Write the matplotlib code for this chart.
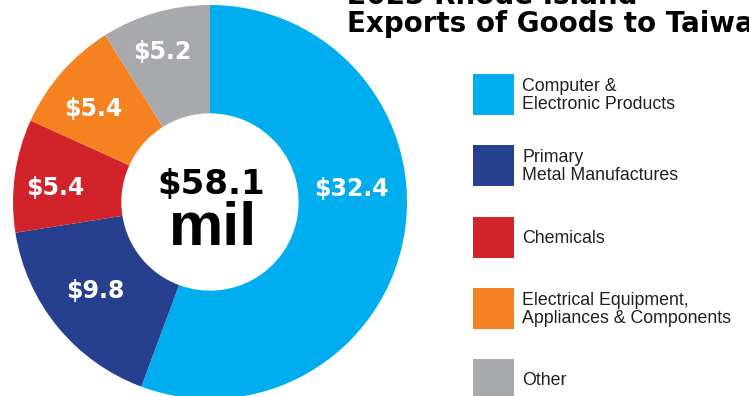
import matplotlib
matplotlib.use('Agg')
import matplotlib.pyplot as plt
from matplotlib.patches import Rectangle

# data (millions of USD)
categories = ['Computer &\nElectronic Products', 'Primary\nMetal Manufactures', 'Chemicals',
              'Electrical Equipment,\nAppliances & Components', 'Other']
values = [32.4, 9.8, 5.4, 5.4, 5.2]
total_label = '$58.1'
colors = ['#00AEEF', '#263F8E', '#D2232A', '#F58220', '#A7A9AC']

# label spots inside the ring (axes data units)
label_xy = [(0.716, 0.066), (-0.584, -0.452), (-0.787, 0.071), (-0.594, 0.472), (-0.244, 0.761)]

W, H = 749, 396
fig = plt.figure(figsize=(W / 100, H / 100), dpi=100)

ax = fig.add_axes([13 / W, -3 / H, 394 / W, 394 / H])
ax.pie(values, colors=colors, startangle=90, counterclock=False, radius=1,
       wedgeprops=dict(width=0.55, linewidth=0))
ax.set_xlim(-1, 1)
ax.set_ylim(-1, 1)
ax.axis('off')

for v, (x, y) in zip(values, label_xy):
    ax.text(x, y, f'${v:.1f}', color='white', fontsize=17, fontweight='bold',
            family='DejaVu Sans', ha='center', va='center')

ax.text(0.005, 0.04, total_label, fontsize=24.5, fontweight='heavy', family='DejaVu Sans',
        ha='center', va='baseline', color='black')
ax.text(0.015, -0.22, 'mil', fontsize=44, fontweight='bold', family='Liberation Sans',
        ha='center', va='baseline', color='black')

# title (cut off by the frame, as in the source)
fig.text(347 / W, 1 - 4 / H, '2023 Rhode Island', fontsize=20, fontweight='bold',
         family='DejaVu Sans', va='baseline', color='black')
fig.text(347 / W, 1 - 32 / H, 'Exports of Goods to Taiwan', fontsize=20, fontweight='bold',
         family='DejaVu Sans', va='baseline', color='black')

# legend
box = 41
top = 74
step = 71.3
for i, (lab, col) in enumerate(zip(categories, colors)):
    y0 = top + i * step
    fig.patches.append(Rectangle((473 / W, 1 - (y0 + box) / H), box / W, box / H,
                                 transform=fig.transFigure, facecolor=col, edgecolor='none'))
    fig.text(522 / W, 1 - (y0 + box / 2 + 1) / H, lab, fontsize=12.8, family='Liberation Sans',
             color='#231F20', va='center', ha='left', linespacing=1.05)

fig.savefig('out.png', dpi=100)
